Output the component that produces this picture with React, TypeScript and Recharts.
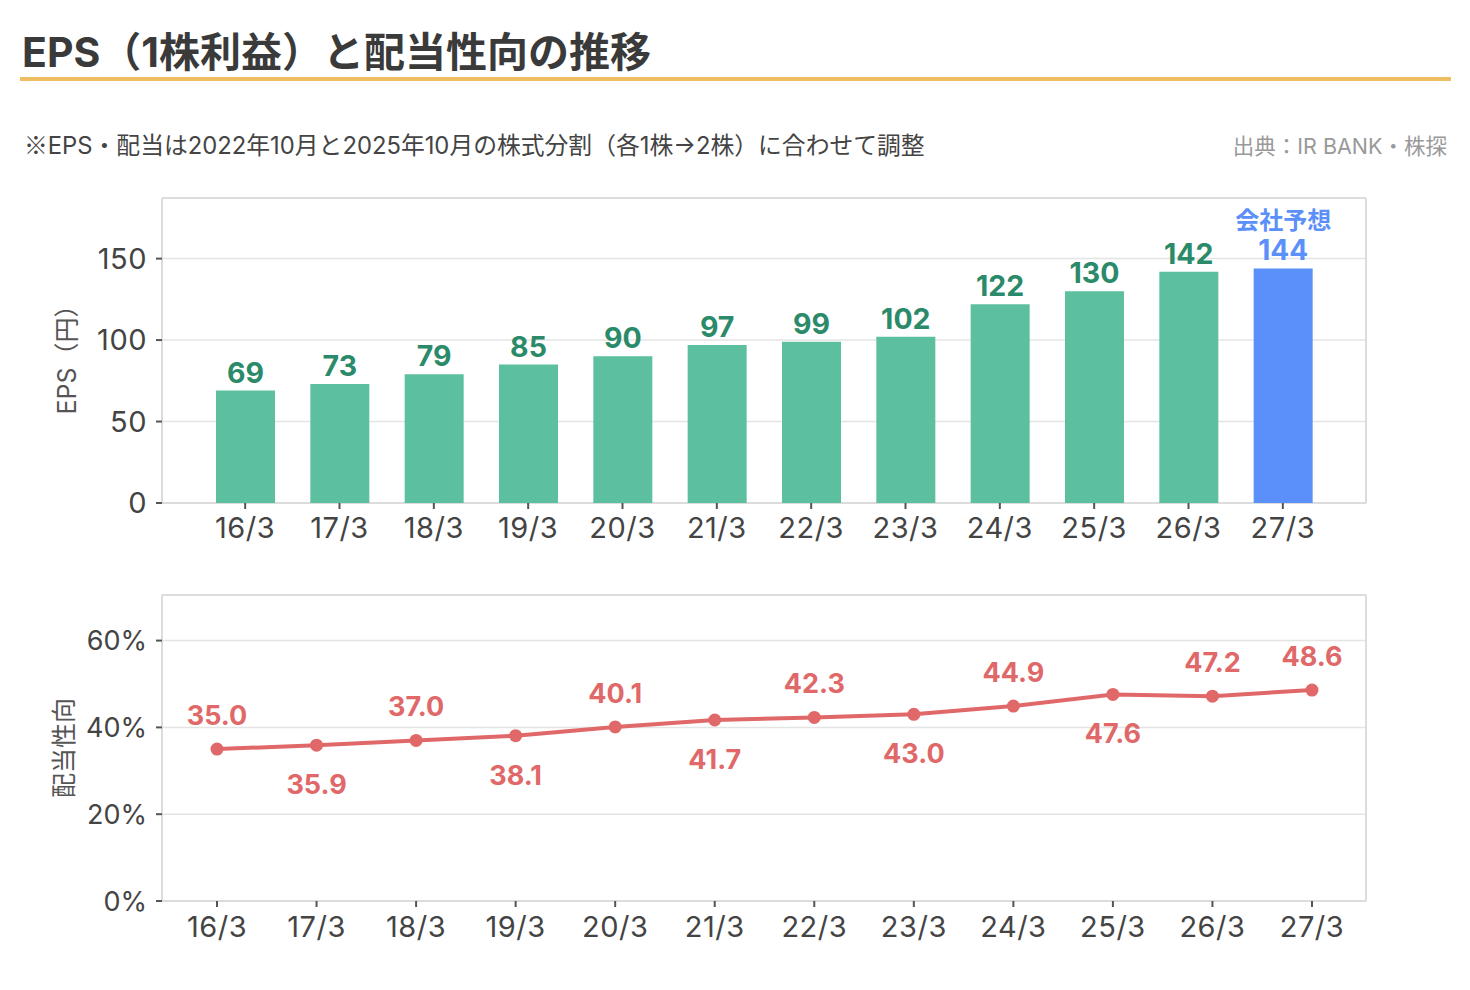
import React from 'react';
import {
  BarChart,
  Bar,
  LineChart,
  Line,
  XAxis,
  YAxis,
  CartesianGrid,
  Cell,
  LabelList,
} from 'recharts';

const categories = ['16/3', '17/3', '18/3', '19/3', '20/3', '21/3', '22/3', '23/3', '24/3', '25/3', '26/3', '27/3'];
const epsValues = [69, 73, 79, 85, 90, 97, 99, 102, 122, 130, 142, 144];
const payoutValues = [35.0, 35.9, 37.0, 38.1, 40.1, 41.7, 42.3, 43.0, 44.9, 47.6, 47.2, 48.6];
const forecastFlags = [false, false, false, false, false, false, false, false, false, false, false, true];
const epsTicks = [0, 50, 100, 150];
const payoutTicks = [0, 20, 40, 60];
const forecastLabel = '会社予想';

const TITLE = 'EPS（1株利益）と配当性向の推移';
const NOTE_MARK = '※';
const NOTE = 'EPS・配当は2022年10月と2025年10月の株式分割（各1株→2株）に合わせて調整';
const SOURCE = '出典：IR BANK・株探';

const FONT = 'Inter, "Noto Sans CJK JP", "Noto Sans", sans-serif';
const CJK_FONT = '"Noto Sans CJK JP", sans-serif';
const GREEN = '#5cbf9f';
const GREEN_TEXT = '#2b8a69';
const BLUE = '#5b8ff9';
const RED = '#e06868';
const AXIS_TEXT = '#444';

const epsData = categories.map((c, i) => ({ name: c, eps: epsValues[i], forecast: forecastFlags[i] }));
const payoutData = categories.map((c, i) => ({ name: c, payout: payoutValues[i] }));

const borderH = ({ offset }: any) => [offset.top, offset.top + offset.height];
const borderV = ({ offset }: any) => [offset.left, offset.left + offset.width];

function YTitle(props: any) {
  const vb = props.viewBox || { x: 62, y: 0, width: 100, height: 300 };
  const cx = vb.x + (props.dx || 0);
  const cy = vb.y + vb.height / 2 + (props.dy || 0);
  return (
    <text
      x={cx}
      y={cy}
      transform={`rotate(-90 ${cx} ${cy})`}
      textAnchor="middle"
      dominantBaseline="central"
      fill="#555"
      fontSize={25}
      fontFamily={FONT}
    >
      {props.text}
    </text>
  );
}

function BarValueLabel(props: any) {
  const { x, y, width, value, index } = props;
  const cx = Number(x) + Number(width) / 2;
  const top = Number(y);
  if (forecastFlags[index]) {
    return (
      <g>
        <text x={cx} y={top - 39} textAnchor="middle" fill={BLUE} fontSize={24} fontWeight={700} fontFamily={FONT}>
          {forecastLabel}
        </text>
        <text x={cx} y={top - 8} textAnchor="middle" fill={BLUE} fontSize={28} fontWeight={700} fontFamily={FONT}>
          {value}
        </text>
      </g>
    );
  }
  return (
    <text x={cx} y={top - 8} textAnchor="middle" fill={GREEN_TEXT} fontSize={28.5} fontWeight={700} fontFamily={FONT}>
      {value}
    </text>
  );
}

function PayoutLabel(props: any) {
  const { x, y, value, index } = props;
  const below = index % 2 === 1 && index !== payoutValues.length - 1;
  const ty = below ? Number(y) + 49 : Number(y) - 24;
  return (
    <text x={Number(x)} y={ty} textAnchor="middle" fill={RED} fontSize={27} fontWeight={700} fontFamily={FONT}>
      {Number(value).toFixed(1)}
    </text>
  );
}

const tickStyle = { fill: AXIS_TEXT, fontSize: 29, fontFamily: FONT, letterSpacing: 0.5 };
const pctTickStyle = { fill: AXIS_TEXT, fontSize: 27, fontFamily: FONT };
const tickLineStyle = { stroke: '#555', strokeWidth: 2 };

export default function App() {
  return (
    <div
      style={{
        position: 'absolute',
        left: 0,
        top: 0,
        width: 1470,
        height: 990,
        background: '#fff',
        fontFamily: FONT,
        overflow: 'hidden',
      }}
    >
      <div
        style={{
          position: 'absolute',
          left: 22,
          top: 27,
          fontSize: 41,
          fontWeight: 700,
          color: '#3a3a3a',
          lineHeight: '50px',
          whiteSpace: 'nowrap',
        }}
      >
        {TITLE}
      </div>
      <div style={{ position: 'absolute', left: 20, top: 77, width: 1431, height: 4, background: '#f0be62' }} />
      <div
        style={{
          position: 'absolute',
          left: 24,
          top: 129,
          fontSize: 23.8,
          color: '#444',
          lineHeight: '30px',
          whiteSpace: 'nowrap',
        }}
      >
        <span style={{ fontFamily: CJK_FONT }}>{NOTE_MARK}</span>
        {NOTE}
      </div>
      <div
        style={{
          position: 'absolute',
          right: 23,
          top: 131,
          fontSize: 21.5,
          color: '#999',
          lineHeight: '30px',
          whiteSpace: 'nowrap',
        }}
      >
        {SOURCE}
      </div>

      <div style={{ position: 'absolute', left: 0, top: 0 }}>
        <BarChart width={1470} height={560} data={epsData} margin={{ top: 198, right: 104, bottom: 7, left: 62 }}>
          <CartesianGrid vertical={false} stroke="#e4e4e4" strokeWidth={1.5} />
          <CartesianGrid
            stroke="#dcdcdc"
            strokeWidth={2}
            horizontalCoordinatesGenerator={borderH}
            verticalCoordinatesGenerator={borderV}
          />
          <XAxis
            dataKey="name"
            height={50}
            padding={{ left: 36, right: 36 }}
            axisLine={false}
            tickLine={tickLineStyle}
            tickSize={6}
            tickMargin={8}
            tick={tickStyle}
            interval={0}
          />
          <YAxis
            width={100}
            domain={[0, 187.2]}
            ticks={epsTicks}
            axisLine={false}
            tickLine={tickLineStyle}
            tickSize={6}
            tickMargin={9}
            tick={tickStyle}
            label={<YTitle text="EPS（円）" dx={5} dy={3} />}
          />
          <Bar dataKey="eps" barSize={59} isAnimationActive={false}>
            {epsData.map((d, i) => (
              <Cell key={i} fill={d.forecast ? BLUE : GREEN} />
            ))}
            <LabelList dataKey="eps" content={<BarValueLabel />} />
          </Bar>
        </BarChart>
      </div>

      <div style={{ position: 'absolute', left: 0, top: 560 }}>
        <LineChart width={1470} height={430} data={payoutData} margin={{ top: 35, right: 104, bottom: 39, left: 62 }}>
          <CartesianGrid vertical={false} stroke="#e4e4e4" strokeWidth={1.5} />
          <CartesianGrid
            stroke="#dcdcdc"
            strokeWidth={2}
            horizontalCoordinatesGenerator={borderH}
            verticalCoordinatesGenerator={borderV}
          />
          <XAxis
            dataKey="name"
            height={50}
            padding={{ left: 55, right: 54 }}
            axisLine={false}
            tickLine={tickLineStyle}
            tickSize={6}
            tickMargin={9}
            tick={tickStyle}
            interval={0}
          />
          <YAxis
            width={100}
            domain={[0, 70.5]}
            ticks={payoutTicks}
            tickFormatter={(v: number) => `${v}%`}
            axisLine={false}
            tickLine={tickLineStyle}
            tickSize={6}
            tickMargin={9}
            tick={pctTickStyle}
            label={<YTitle text="配当性向" dx={2} />}
          />
          <Line
            type="linear"
            dataKey="payout"
            stroke={RED}
            strokeWidth={4}
            dot={{ r: 6.5, fill: RED, stroke: RED, strokeWidth: 0 }}
            activeDot={false}
            isAnimationActive={false}
          >
            <LabelList dataKey="payout" content={<PayoutLabel />} />
          </Line>
        </LineChart>
      </div>
    </div>
  );
}
